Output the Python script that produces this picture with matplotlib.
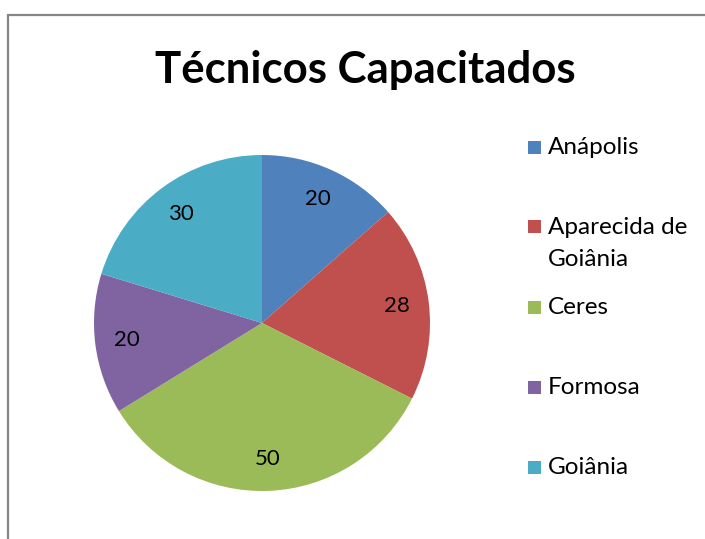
import matplotlib
matplotlib.use("Agg")
import matplotlib.pyplot as plt
from matplotlib.patches import Rectangle

cities = ["Anápolis", "Aparecida de\nGoiânia", "Ceres", "Formosa", "Goiânia"]
trained = [20, 28, 50, 20, 30]
colors = ["#4F81BD", "#C0504D", "#9BBB59", "#8064A2", "#4BACC6"]

plt.rcParams["font.family"] = ["Lato", "DejaVu Sans"]

W, H = 705, 539
fig = plt.figure(figsize=(W / 100, H / 100), dpi=100)

# chart area border (runs off the right and bottom edges)
fig.patches.append(Rectangle((8 / W, -0.05), 1.0, 1 - 15 / H + 0.05,
                             transform=fig.transFigure, fill=False,
                             edgecolor="#868686", linewidth=1.6))

fig.text(365 / W, 1 - 70 / H, "Técnicos Capacitados", ha="center",
         va="center", fontsize=31.5, fontweight="bold")

cx, cy, r = 262, 323, 168
ax = fig.add_axes([(cx - r) / W, (H - cy - r) / H, 2 * r / W, 2 * r / H])
total = sum(trained)
ax.pie(trained, colors=colors, startangle=90, counterclock=False,
       autopct=lambda p: f"{p * total / 100:.0f}", pctdistance=0.81,
       textprops={"fontsize": 16, "color": "#000000"},
       wedgeprops={"linewidth": 0})
ax.set_xlim(-1, 1)
ax.set_ylim(-1, 1)

# legend drawn by hand so each entry keeps Excel's fixed row spacing
for i, (name, col) in enumerate(zip(cities, colors)):
    y = 147 + 80 * i
    fig.patches.append(Rectangle((528 / W, 1 - (y + 6.5) / H), 13 / W, 13 / H,
                                 transform=fig.transFigure, facecolor=col,
                                 edgecolor="none"))
    for j, line in enumerate(name.split("\n")):
        fig.text(548 / W, 1 - (y + 32 * j) / H, line, ha="left",
                 va="center", fontsize=17.5)

fig.savefig("out.png", dpi=100)
